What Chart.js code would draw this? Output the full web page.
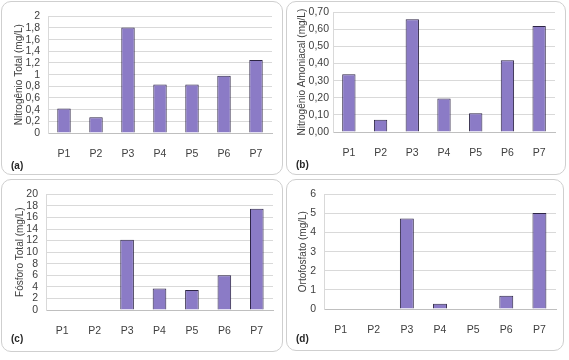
<!DOCTYPE html>
<html>
<head>
<meta charset="utf-8">
<script src="https://cdn.jsdelivr.net/npm/chart.js@4"></script>
<style>
  html, body { margin: 0; padding: 0; background: #fff; }
  body { width: 569px; height: 360px; position: relative; overflow: hidden; font-family: "Liberation Sans", Arial, sans-serif; }
  .panel { position: absolute; box-sizing: border-box; border: 1px solid #cfcfcf; border-radius: 10px; }
  canvas { position: absolute; }
  .tag { position: absolute; font-weight: bold; font-size: 10px; color: #262626; }
</style>
</head>
<body>
<div class="panel" style="left:1px;top:1px;width:282px;height:174px"></div>
<div class="panel" style="left:286px;top:1px;width:280px;height:174px"></div>
<div class="panel" style="left:1px;top:179px;width:282px;height:173px"></div>
<div class="panel" style="left:286px;top:179px;width:278px;height:172px"></div>

<canvas id="cA" style="left:2px;top:2px"></canvas>
<canvas id="cB" style="left:287px;top:2px"></canvas>
<canvas id="cC" style="left:2px;top:180px"></canvas>
<canvas id="cD" style="left:287px;top:180px"></canvas>

<div class="tag" style="left:11px;top:160px">(a)</div>
<div class="tag" style="left:296px;top:159px">(b)</div>
<div class="tag" style="left:11px;top:333px">(c)</div>
<div class="tag" style="left:296px;top:333px">(d)</div>

<script>
(() => {
  const categories = ['P1', 'P2', 'P3', 'P4', 'P5', 'P6', 'P7'];

  const nitrogenioTotal = [0.42, 0.27, 1.81, 0.83, 0.83, 0.98, 1.25];
  const nitrogenioAmoniacal = [0.337, 0.071, 0.66, 0.196, 0.11, 0.42, 0.62];
  const fosforoTotal = [null, null, 12.16, 3.7, 3.45, 6.0, 17.5];
  const ortofosfato = [null, null, 4.73, 0.28, null, 0.69, 5.02];

  const titles = ['Nitrogênio Total (mg/L)', 'Nitrogênio Amoniacal (mg/L)', 'Fósforo Total (mg/L)', 'Ortofosfato (mg/L)'];
  const yMax = [2, 0.7, 20, 6];
  const yStep = [0.2, 0.1, 2, 1];
  const yDecimals = [-1, 2, 0, 0];

  const FONT = '"Liberation Sans", Arial, sans-serif';
  const TEXT = '#404040';

  function fmt(v, dec) {
    if (dec < 0) {
      const r = Math.round(v * 10) / 10;
      return String(r).replace('.', ',');
    }
    return v.toFixed(dec).replace('.', ',');
  }

  // canvas size, chart-area edges inside canvas
  function makeChart(id, w, h, box, values, i, titlePad, tickPad) {
    const cv = document.getElementById(id);
    cv.width = w;
    cv.height = h;
    cv.style.width = w + 'px';
    cv.style.height = h + 'px';

    return new Chart(cv.getContext('2d'), {
      type: 'bar',
      data: {
        labels: categories,
        datasets: [{
          data: values,
          backgroundColor: '#8b7bc6',
          borderColor: '#2d2545',
          borderWidth: 1,
          categoryPercentage: 1,
          barPercentage: 0.42
        }]
      },
      options: {
        responsive: false,
        animation: false,
        layout: { padding: { top: box.top, right: w - box.right, left: 0, bottom: 0 } },
        plugins: { legend: { display: false }, tooltip: { enabled: false } },
        scales: {
          x: {
            grid: { display: false },
            border: { color: '#bfbfbf' },
            ticks: { color: TEXT, font: { family: FONT, size: 10.5 }, padding: 7, maxRotation: 0, autoSkip: false },
            afterFit: s => { s.height = h - box.bottom; }
          },
          y: {
            min: 0,
            max: yMax[i],
            grid: { color: '#d9d9d9', drawTicks: false },
            border: { display: true, color: '#d9d9d9' },
            ticks: {
              stepSize: yStep[i],
              autoSkip: false,
              color: TEXT,
              font: { family: FONT, size: 10.5 },
              padding: tickPad,
              callback: v => fmt(v, yDecimals[i])
            },
            title: {
              display: true,
              text: titles[i],
              color: TEXT,
              font: { family: FONT, size: 10 },
              padding: { top: titlePad, bottom: 0 }
            },
            afterFit: s => { s.width = box.left; }
          }
        }
      }
    });
  }

  makeChart('cA', 280, 172, { left: 46, right: 270, top: 9, bottom: 131 }, nitrogenioTotal, 0, 11, 8);
  makeChart('cB', 278, 172, { left: 46, right: 268, top: 9, bottom: 130 }, nitrogenioAmoniacal, 1, 9, 4);
  makeChart('cC', 280, 171, { left: 44, right: 271, top: 8, bottom: 130 }, fosforoTotal, 2, 12, 8);
  makeChart('cD', 276, 170, { left: 37, right: 269, top: 8, bottom: 129 }, ortofosfato, 3, 10, 8);
})();
</script>
</body>
</html>
